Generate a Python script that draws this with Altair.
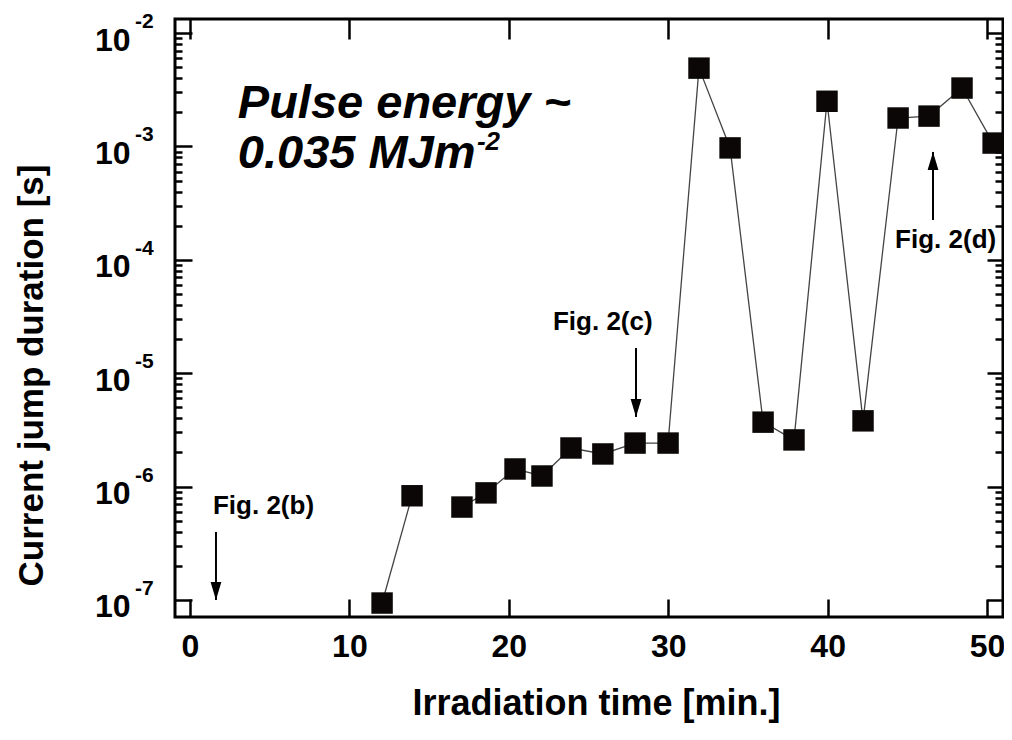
import altair as alt
import pandas as pd

# ---- data ----
time_min = [12.05, 13.93, 17.06, 18.57, 20.39, 22.08, 23.9, 25.9, 27.92, 29.99,
            31.93, 33.88, 35.95, 37.89, 39.96, 42.22, 44.42, 46.36, 48.43, 50.38]
duration_s = [9.4e-8, 8.3e-7, 6.6e-7, 8.8e-7, 1.43e-6, 1.24e-6, 2.19e-6, 1.94e-6, 2.42e-6, 2.42e-6,
              4.9e-3, 9.7e-4, 3.7e-6, 2.58e-6, 2.5e-3, 3.8e-6, 1.78e-3, 1.85e-3, 3.27e-3, 1.07e-3]
segment = [0, 0, 1, 1, 1, 1, 1, 1, 1, 1, 1, 1, 1, 1, 1, 1, 1, 1, 1, 1]

x_ticks = [0, 10, 20, 30, 40, 50]
y_powers = [-7, -6, -5, -4, -3, -2]
y_major = [10.0 ** p for p in y_powers]
y_minor = [k * 10.0 ** p for p in [-7, -6, -5, -4, -3] for k in range(2, 10)]

fig_labels = ["Fig. 2(b)", "Fig. 2(c)", "Fig. 2(d)"]
fig_label_x = [1.44, 22.77, 44.23]
fig_label_y = [10 ** -6.242, 10 ** -4.619, 10 ** -3.896]

arrow_x = [1.63, 27.98, 46.61]
arrow_from = [10 ** -6.4, 10 ** -4.778, 10 ** -3.649]
arrow_tip = [10 ** -7.0, 10 ** -5.386, 10 ** -3.049]
arrow_dir = ["down", "down", "up"]

note_lines = ["Pulse energy ~", "0.035 MJm"]
note_x = [3.0, 3.0]
note_y = [10 ** -2.750, 10 ** -3.190]
note_sup = ["-2"]
note_sup_x = [18.0]
note_sup_y = [10 ** -3.032]

# ---- frames ----
df = pd.DataFrame({"t": time_min, "d": duration_s, "seg": segment})
exp_df = pd.DataFrame({"d": y_major, "lab": [str(p) for p in y_powers]})
fig_df = pd.DataFrame({"t": fig_label_x, "d": fig_label_y, "lab": fig_labels})
arr_df = pd.DataFrame({"t": arrow_x, "d": arrow_from, "d2": arrow_tip, "dir": arrow_dir})
note_df = pd.DataFrame({"t": note_x, "d": note_y, "lab": note_lines})
sup_df = pd.DataFrame({"t": note_sup_x, "d": note_sup_y, "lab": note_sup})

FONT = "Liberation Sans"
X_DOM = [-0.94, 51.0]
Y_DOM = [10 ** -7.150, 10 ** -1.8765]


def xs():
    return alt.Scale(domain=X_DOM, nice=False, zero=False)


def ys():
    return alt.Scale(type="log", domain=Y_DOM, nice=False)


tick_style = dict(tickColor="black", tickWidth=2.5, domain=False, grid=False)

x_bottom = alt.Axis(orient="bottom", values=x_ticks, offset=-18, tickSize=18,
                    labelFont=FONT, labelFontSize=32, labelFontWeight="bold", labelColor="black",
                    labelPadding=14, labelFlush=False, labelOverlap=False,
                    title="Irradiation time [min.]", titleFont=FONT, titleFontSize=36,
                    titleFontWeight="bold", titleColor="black", titleX=421, titleY=115,
                    titleBaseline="alphabetic", **tick_style)
x_top = alt.Axis(orient="top", values=x_ticks, offset=-20, tickSize=20, labels=False,
                 title=None, **tick_style)
y_left = alt.Axis(orient="left", values=y_major, offset=-17, tickSize=17,
                  labelExpr="'10'", labelFont=FONT, labelFontSize=32, labelFontWeight="bold",
                  labelColor="black", labelPadding=45, labelOffset=7, labelOverlap=False,
                  labelBaseline="middle",
                  title="Current jump duration [s]", titleFont=FONT, titleFontSize=35,
                  titleFontWeight="bold", titleColor="black", titleX=-150, titleY=356,
                  titleBaseline="alphabetic", **tick_style)
y_left_minor = alt.Axis(orient="left", values=y_minor, offset=-7, tickSize=7, labels=False,
                        title=None, **tick_style)
y_right = alt.Axis(orient="right", values=y_major, offset=-16, tickSize=16, labels=False,
                   title=None, **tick_style)
y_right_minor = alt.Axis(orient="right", values=y_minor, offset=-8, tickSize=8, labels=False,
                         title=None, **tick_style)

line = alt.Chart(df).mark_line(color="#444444", strokeWidth=1.3).encode(
    x=alt.X("t:Q", scale=xs(), axis=x_bottom),
    y=alt.Y("d:Q", scale=ys(), axis=y_left),
    detail="seg:N",
)

points = alt.Chart(df).mark_point(shape="square", filled=True, size=460, color="#0b0707",
                                  opacity=1).encode(
    x=alt.X("t:Q", scale=xs(), axis=x_top),
    y=alt.Y("d:Q", scale=ys(), axis=y_left_minor),
)

exps = alt.Chart(exp_df).mark_text(font=FONT, fontSize=21, fontWeight="bold", color="black",
                                   align="left", baseline="middle", dy=-11).encode(
    x=alt.value(-40),
    y=alt.Y("d:Q", scale=ys(), axis=y_right),
    text="lab:N",
)

figs = alt.Chart(fig_df).mark_text(font=FONT, fontSize=26, fontWeight="bold", color="black",
                                   align="left", baseline="alphabetic").encode(
    x=alt.X("t:Q", scale=xs(), axis=None),
    y=alt.Y("d:Q", scale=ys(), axis=y_right_minor),
    text="lab:N",
)

shafts = alt.Chart(arr_df).mark_rule(color="black", strokeWidth=2).encode(
    x=alt.X("t:Q", scale=xs(), axis=None),
    y=alt.Y("d:Q", scale=ys(), axis=None),
    y2="d2:Q",
)

heads_down = alt.Chart(arr_df).transform_filter(alt.datum.dir == "down").mark_point(
    shape="M-0.6,-2L0.6,-2L0,0Z", filled=True, size=324, color="black", opacity=1).encode(
    x=alt.X("t:Q", scale=xs(), axis=None),
    y=alt.Y("d2:Q", scale=ys(), axis=None),
)
heads_up = alt.Chart(arr_df).transform_filter(alt.datum.dir == "up").mark_point(
    shape="M-0.6,2L0.6,2L0,0Z", filled=True, size=324, color="black", opacity=1).encode(
    x=alt.X("t:Q", scale=xs(), axis=None),
    y=alt.Y("d2:Q", scale=ys(), axis=None),
)

note = alt.Chart(note_df).mark_text(font=FONT, fontSize=47, fontWeight="bold", fontStyle="italic",
                                    color="black", align="left", baseline="alphabetic").encode(
    x=alt.X("t:Q", scale=xs(), axis=None),
    y=alt.Y("d:Q", scale=ys(), axis=None),
    text="lab:N",
)
sup = alt.Chart(sup_df).mark_text(font=FONT, fontSize=26, fontWeight="bold", fontStyle="italic",
                                  color="black", align="left", baseline="alphabetic").encode(
    x=alt.X("t:Q", scale=xs(), axis=None),
    y=alt.Y("d:Q", scale=ys(), axis=None),
    text="lab:N",
)

chart = alt.layer(line, points, exps, figs, shafts, heads_down, heads_up, note, sup).resolve_axis(
    x="independent", y="independent"
).properties(
    width=828, height=598,
    autosize=alt.AutoSizeParams(type="none"),
    padding={"left": 167, "top": 11, "right": 1, "bottom": 108},
).configure_view(stroke="black", strokeWidth=3)

chart.save("out.html", embed_options={"renderer": "svg", "actions": False})
